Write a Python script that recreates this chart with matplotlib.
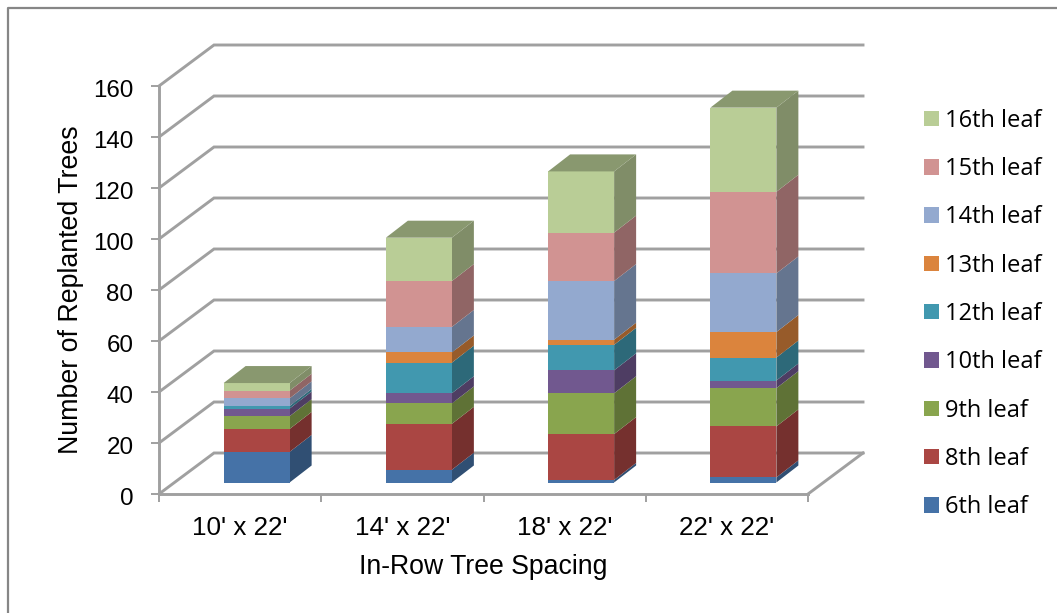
import numpy as np
import matplotlib
matplotlib.use("Agg")
import matplotlib.pyplot as plt
from matplotlib.colors import to_rgb
from matplotlib.patches import Patch, Polygon
from matplotlib.transforms import ScaledTranslation

spacings = ["10' x 22'", "14' x 22'", "18' x 22'", "22' x 22'"]
leaf_labels = ["6th leaf", "8th leaf", "9th leaf", "10th leaf", "12th leaf",
               "13th leaf", "14th leaf", "15th leaf", "16th leaf"]
leaf_6 = [12, 5, 1, 2]
leaf_8 = [9, 18, 18, 20]
leaf_9 = [5, 8, 16, 15]
leaf_10 = [3, 4, 9, 3]
leaf_12 = [1, 12, 10, 9]
leaf_13 = [0, 4, 2, 10]
leaf_14 = [3, 10, 23, 23]
leaf_15 = [3, 18, 19, 32]
leaf_16 = [3, 17, 24, 33]
yticks = [0, 20, 40, 60, 80, 100, 120, 140, 160]

colors = ["#4572A7", "#AA4643", "#89A54E", "#71588F", "#4198AF",
          "#DB843D", "#93A9CF", "#D19392", "#B9CD96"]
grid_color = "#A0A0A0"

W, H = 1057, 613
fig = plt.figure(figsize=(W / 100, H / 100), dpi=100)
ax = fig.add_axes([159 / W, 1 - 494 / H, 649 / W, 408 / H])
ax.set_xlim(0, 4)
ax.set_ylim(0, 160)

# depth of the fake 3D box, in data units
px_x = 4 / 649
px_y = 160 / 408
depth_x = 55 * px_x
depth_y = 41 * px_y
bar_w = 66 * px_x
side_x = 22 * px_x
side_y = 17 * px_y
front_x = 16.5 * px_x
front_y = 11.5 * px_y

# walls and floor
for v in yticks:
    ax.plot([0, depth_x, 4 + depth_x], [v, v + depth_y, v + depth_y],
            color=grid_color, lw=2.1, clip_on=False, zorder=1, solid_joinstyle="miter")
ax.plot([4, 4 + depth_x], [0, depth_y], color=grid_color, lw=2.1, clip_on=False, zorder=1)


def shade(c, f):
    return tuple(x * f for x in to_rgb(c))


series = [leaf_6, leaf_8, leaf_9, leaf_10, leaf_12, leaf_13, leaf_14, leaf_15, leaf_16]
for i in range(len(spacings)):
    x0 = i + 0.5 - bar_w / 2 + front_x
    x1 = x0 + bar_w
    bottom = front_y
    for vals, c in zip(series, colors):
        top = bottom + vals[i]
        if vals[i] > 0:
            ax.add_patch(Polygon([(x1, bottom), (x1 + side_x, bottom + side_y),
                                  (x1 + side_x, top + side_y), (x1, top)],
                                 fc=shade(c, 0.69), ec="none", clip_on=False, zorder=3))
            ax.add_patch(Polygon([(x0, bottom), (x1, bottom), (x1, top), (x0, top)],
                                 fc=c, ec="none", clip_on=False, zorder=4))
        bottom = top
    ax.add_patch(Polygon([(x0, bottom), (x1, bottom), (x1 + side_x, bottom + side_y),
                          (x0 + side_x, bottom + side_y)],
                         fc=shade(colors[-1], 0.74), ec="none", clip_on=False, zorder=4))

for s in ["top", "right"]:
    ax.spines[s].set_visible(False)
for s in ["left", "bottom"]:
    ax.spines[s].set_color(grid_color)
    ax.spines[s].set_linewidth(2.1)
ax.patch.set_alpha(0)

ax.set_yticks(yticks)
ax.set_xticks(range(5))
ax.set_xticklabels([])
ax.set_xticks(np.arange(4) + 0.5, spacings, minor=True)
ax.tick_params(axis="y", length=5.5, width=1.4, color=grid_color, pad=13,
               labelsize=17.4, labelfontfamily="Liberation Sans")
ax.tick_params(axis="x", which="major", length=6, width=1.4, color=grid_color)
ax.tick_params(axis="x", which="minor", length=0, pad=16,
               labelsize=18.7, labelfontfamily="Liberation Sans")
# y labels sit a bit lower than matplotlib centres them
for lbl in ax.get_yticklabels():
    lbl.set_transform(lbl.get_transform() + ScaledTranslation(0, -1.5 / 72, fig.dpi_scale_trans))
ax.set_xlabel("In-Row Tree Spacing", fontsize=19.2, family="Liberation Sans", labelpad=10)
ax.set_ylabel("Number of Replanted Trees", fontsize=19.3, family="Liberation Sans", labelpad=6.5)

handles = [Patch(fc=c, ec="none") for c in colors][::-1]
fig.legend(handles, leaf_labels[::-1], loc="center left", bbox_to_anchor=(924 / W, 1 - 314 / H),
           frameon=False, ncol=1, prop={"family": "Open Sans", "size": 17},
           handlelength=0.635, handleheight=0.635, handletextpad=0.25, labelspacing=1.03,
           borderpad=0, borderaxespad=0)

# outer chart frame, runs off the picture at right and bottom
fig.add_artist(plt.Line2D([8 / W, 8 / W, 1], [0, 1 - 8 / H, 1 - 8 / H], color="#868686", lw=1.6))

fig.savefig("out.png", dpi=100)
